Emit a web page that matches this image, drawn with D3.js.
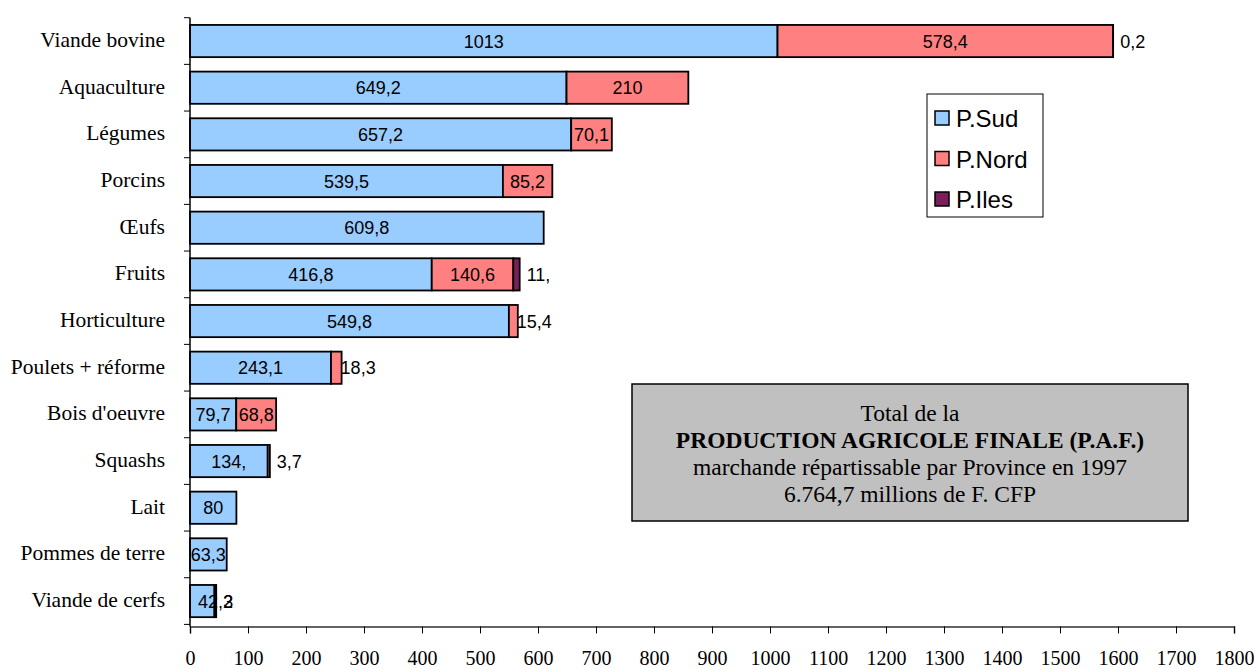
<!DOCTYPE html>
<html>
<head>
<meta charset="utf-8">
<script src="https://cdn.jsdelivr.net/npm/d3@7"></script>
<style>
  body { margin: 0; background: #fff; }
  svg { display: block; }
</style>
</head>
<body>
<div class="chart"></div>
<script>
const categories = ['Viande bovine', 'Aquaculture', 'Légumes', 'Porcins', 'Œufs', 'Fruits',
  'Horticulture', 'Poulets + réforme', "Bois d'oeuvre", 'Squashs', 'Lait', 'Pommes de terre',
  'Viande de cerfs'];
const series = ['P.Sud', 'P.Nord', 'P.Iles'];
const sudValues = [1013, 649.2, 657.2, 539.5, 609.8, 416.8, 549.8, 243.1, 79.7, 134, 80, 63.3, 42.2];
const nordValues = [578.4, 210, 70.1, 85.2, 0, 140.6, 15.4, 18.3, 68.8, 3.7, 0, 0, 3];
const ilesValues = [0.2, 0, 0, 0, 0, 11, 0, 0, 0, 0, 0, 0, 0];
// labels as printed on the original (some are cut short)
const sudLabels = ['1013', '649,2', '657,2', '539,5', '609,8', '416,8', '549,8', '243,1', '79,7', '134,', '80', '63,3', '42,2'];
const nordLabels = ['578,4', '210', '70,1', '85,2', '', '140,6', '15,4', '18,3', '68,8', '3,7', '', '', '3'];
const ilesLabels = ['0,2', '', '', '', '', '11,', '', '', '', '', '', '', ''];
const xTicks = d3.range(0, 1801, 100);
const boxLines = ['Total de la', 'PRODUCTION AGRICOLE FINALE (P.A.F.)',
  'marchande répartissable par Province en 1997', '6.764,7 millions de F. CFP'];

const width = 1254;
const height = 669;
const colors = ['#99ccff', '#ff8080', '#7a1f5c'];

const rows = categories.map((c, i) => ({
  cat: c,
  values: [sudValues[i], nordValues[i], ilesValues[i]],
  labels: [sudLabels[i], nordLabels[i], ilesLabels[i]]
}));

const x = d3.scaleLinear().domain([0, 1800]).range([190, 1234]);
const y = d3.scaleBand().domain(categories).range([17.7, 624.4])
  .paddingInner(0.31).paddingOuter(0.155);

const svg = d3.select('.chart').append('svg')
  .attr('width', width).attr('height', height);

// stacked segments
const stack = d3.stack().keys([0, 1, 2]).value((d, k) => d.values[k]);
const layers = stack(rows);

const groups = svg.selectAll('.layer').data(layers)
  .enter().append('g')
  .attr('class', 'layer')
  .attr('fill', d => colors[d.key]);

groups.selectAll('rect').data(d => d.filter(s => s[1] - s[0] > 0))
  .enter().append('rect')
  .attr('x', d => x(d[0]))
  .attr('y', d => y(d.data.cat))
  .attr('width', d => x(d[1]) - x(d[0]))
  .attr('height', y.bandwidth())
  .attr('stroke', '#000')
  .attr('stroke-width', 1.8);

// value labels, Excel-like placement when the segment is too narrow
layers.forEach(layer => {
  layer.forEach(s => {
    const txt = s.data.labels[layer.key];
    if (!txt) return;
    const w = x(s[1]) - x(s[0]);
    const tw = txt.length * 9.5;
    let xp = (x(s[0]) + x(s[1])) / 2;
    let anchor = 'middle';
    if (w < tw - 4) {
      anchor = 'start';
      if (layer.key === 0) xp = x(s[0]) + 8;
      else if (w > 8) xp = x(s[1]) - 1;
      else xp = x(s[1]) + 7;
    }
    svg.append('text')
      .attr('x', xp)
      .attr('y', y(s.data.cat) + y.bandwidth() / 2 + 6.5)
      .attr('text-anchor', anchor)
      .attr('font-family', 'Liberation Sans, Arial, sans-serif')
      .attr('font-size', 18)
      .attr('fill', '#000')
      .text(txt);
  });
});

// axes
const xAxis = svg.append('g')
  .attr('transform', `translate(0, ${y.range()[1] + 2})`)
  .call(d3.axisBottom(x).tickValues(xTicks).tickSize(7).tickPadding(17).tickFormat(d3.format('d')));
xAxis.select('.domain').attr('stroke', '#333').attr('stroke-width', 1.5);
xAxis.selectAll('.tick line').attr('stroke', '#000');
xAxis.selectAll('text')
  .attr('font-family', 'Liberation Serif, Times New Roman, serif')
  .attr('font-size', 20).attr('fill', '#000');

const yAxis = svg.append('g').attr('transform', `translate(${x(0)}, 0)`);
yAxis.append('line')
  .attr('y1', y.range()[0]).attr('y2', y.range()[1] + 2)
  .attr('stroke', '#000').attr('stroke-width', 1.5);
yAxis.selectAll('.yt').data(d3.range(categories.length + 1))
  .enter().append('line')
  .attr('x1', -6).attr('x2', 0)
  .attr('y1', i => y.range()[0] + i * y.step())
  .attr('y2', i => y.range()[0] + i * y.step())
  .attr('stroke', '#000');
svg.selectAll('.cat').data(categories)
  .enter().append('text')
  .attr('x', 165)
  .attr('y', d => y(d) + y.bandwidth() / 2 + 6)
  .attr('text-anchor', 'end')
  .attr('font-family', 'Liberation Serif, Times New Roman, serif')
  .attr('font-size', 21.5)
  .text(d => d);

// legend
const legend = svg.append('g').attr('transform', 'translate(927, 94)');
legend.append('rect').attr('width', 116).attr('height', 123)
  .attr('fill', '#fff').attr('stroke', '#000');
series.forEach((s, i) => {
  legend.append('rect')
    .attr('x', 8).attr('y', 17 + i * 40.5)
    .attr('width', 14).attr('height', 14)
    .attr('fill', colors[i]).attr('stroke', '#000').attr('stroke-width', 1.5);
  legend.append('text')
    .attr('x', 29).attr('y', 33 + i * 40.5)
    .attr('font-family', 'Liberation Sans, Arial, sans-serif')
    .attr('font-size', 24)
    .text(s);
});

// total box
const box = svg.append('g').attr('transform', 'translate(632, 384)');
box.append('rect').attr('width', 556).attr('height', 137)
  .attr('fill', '#c0c0c0').attr('stroke', '#000').attr('stroke-width', 1.5);
box.selectAll('text').data(boxLines)
  .enter().append('text')
  .attr('x', 278)
  .attr('y', (d, i) => 37 + i * 27)
  .attr('text-anchor', 'middle')
  .attr('font-family', 'Liberation Serif, Times New Roman, serif')
  .attr('font-size', 23.5)
  .attr('font-weight', (d, i) => i === 1 ? 'bold' : 'normal')
  .text(d => d);
</script>
</body>
</html>
